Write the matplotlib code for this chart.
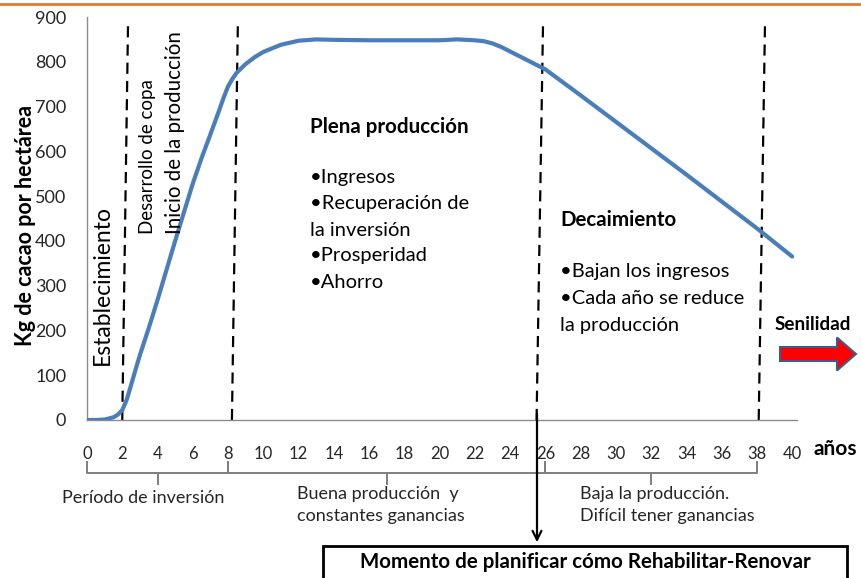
import matplotlib
matplotlib.use('Agg')
import matplotlib.pyplot as plt
import matplotlib.patches as mpatches
import matplotlib.lines as mlines

plt.rcParams['font.family'] = ['Lato', 'DejaVu Sans']

# curva de produccion (kg/ha)
anios = [0, 0.5, 1, 1.5, 1.75, 2, 2.25, 2.5, 2.75, 3, 3.5, 4, 5, 6, 6.5, 7, 7.25, 7.5, 7.75,
         8, 8.25, 8.5, 9, 9.5, 10, 11, 12, 13, 14, 16, 18, 20, 21, 22, 22.5, 23, 23.5, 24,
         25, 26, 28, 30, 32, 34, 36, 38, 40]
kg = [0, 0, 1, 6, 12, 22, 45, 78, 112, 145, 205, 268, 400, 528, 585, 638, 665, 692, 720,
      745, 762, 776, 795, 810, 822, 838, 847, 850, 849, 848, 848, 848, 850, 848, 846, 841,
      833, 823, 803, 783, 725, 666, 607, 548, 488, 428, 365]

x_ticks = list(range(0, 41, 2))
y_ticks = list(range(0, 901, 100))

# limites de etapas (abajo, arriba) - las lineas estan algo inclinadas
etapas = [(2.0, 2.33), (8.22, 8.56), (25.5, 25.87), (38.1, 38.46)]

fases = ['Establecimiento', 'Desarrollo de copa', 'Inicio de la producción']
plena = ['•Ingresos', '•Recuperación de', 'la inversión', '•Prosperidad', '•Ahorro']
decae = ['•Bajan los ingresos', '•Cada año se reduce', 'la producción']
llaves = [(0, 8, 'Período de inversión'),
          (8, 26, 'Buena producción  y\nconstantes ganancias'),
          (26, 38, 'Baja la producción.\nDifícil tener ganancias')]

W, H = 861, 578
fig = plt.figure(figsize=(W / 100, H / 100), dpi=100)
x0, x1, ytop, ybot = 87, 797, 17, 420
ax = fig.add_axes([x0 / W, 1 - ybot / H, (x1 - x0) / W, (ybot - ytop) / H])
ppx = 17.63   # px por anio
ppy = (ybot - ytop) / 900.0


def dx(px):
    return (px - x0) / ppx


def dy(py):
    return (ybot - py) / ppy


ax.set_xlim(0, (x1 - x0) / ppx)
ax.set_ylim(0, 900)
ax.plot(anios, kg, color='#4A7EBB', lw=3.0, solid_capstyle='round',
        solid_joinstyle='round', zorder=3)

for b, t in etapas:
    ax.plot([b, t], [0, 893], color='black', lw=1.6, dashes=(5, 3.2), zorder=2)

for s in ['top', 'right']:
    ax.spines[s].set_visible(False)
for s in ['left', 'bottom']:
    ax.spines[s].set_color('#8C8C8C')
    ax.spines[s].set_linewidth(1)
ax.set_xticks(x_ticks)
ax.set_yticks(y_ticks)
ax.tick_params(axis='x', length=0, pad=19, labelsize=12, labelcolor='#262626')
ax.tick_params(axis='y', length=0, pad=15, labelsize=13, labelcolor='#262626')

fig.text(26 / W, 1 - 225 / H, 'Kg de cacao por hectárea', rotation=90, ha='center',
         va='center', fontsize=15.5, fontweight='bold', color='black')

# textos verticales de las fases
ax.text(dx(102), dy(365), fases[0], rotation=90, ha='center', va='bottom', fontsize=16.5)
ax.text(dx(147), dy(234), fases[1], rotation=90, ha='center', va='bottom', fontsize=13.5)
ax.text(dx(175), dy(234), fases[2], rotation=90, ha='center', va='bottom', fontsize=14.8)

ax.text(dx(310), dy(127), 'Plena producción', ha='left', va='center', fontsize=14.8,
        fontweight='bold')
for i, t in enumerate(plena):
    ax.text(dx(310), dy(178 + i * 26), t, ha='left', va='center', fontsize=14.5)

ax.text(dx(560), dy(220), 'Decaimiento', ha='left', va='center', fontsize=14.8,
        fontweight='bold')
for i, t in enumerate(decae):
    ax.text(dx(560), dy(272 + i * 26.5), t, ha='left', va='center', fontsize=14.5)

# senilidad
ax.text(dx(813), dy(325), 'Senilidad', ha='center', va='center', fontsize=13.6,
        fontweight='bold', clip_on=False)
flecha = mpatches.FancyArrow(dx(780), dy(354), dx(856) - dx(780), 0, width=14 / ppy,
                             head_width=33 / ppy, head_length=19 / ppx,
                             length_includes_head=True, facecolor='#FF0000',
                             edgecolor='#3E5C8A', lw=1.5, clip_on=False, zorder=4)
ax.add_patch(flecha)

ax.text(dx(813), dy(449), 'años', ha='left', va='center', fontsize=15,
        fontweight='bold', clip_on=False)

# llaves debajo del eje
gris = '#7F7F7F'
for a, b, lab in llaves:
    xs = [a, a, b, b]
    ys = [dy(462), dy(473), dy(473), dy(462)]
    ax.add_line(mlines.Line2D(xs, ys, color=gris, lw=1.4, clip_on=False))
    m = (a + b) / 2
    ax.add_line(mlines.Line2D([m, m], [dy(473), dy(484)], color=gris, lw=1.4, clip_on=False))
ax.text(dx(62), dy(498), llaves[0][2], ha='left', va='center', fontsize=13,
        color='#262626', clip_on=False)
ax.text(dx(297), dy(505), llaves[1][2], ha='left', va='center', fontsize=13,
        color='#262626', linespacing=1.4, clip_on=False)
ax.text(dx(580), dy(505), llaves[2][2], ha='left', va='center', fontsize=13,
        color='#262626', linespacing=1.4, clip_on=False)

# flecha hacia el recuadro
ax.annotate('', xy=(dx(537), dy(545)), xytext=(dx(537), dy(411)),
            arrowprops=dict(arrowstyle='->', color='black', lw=1.6,
                            mutation_scale=16), annotation_clip=False)
caja = mpatches.Rectangle((dx(323), dy(600)), dx(847) - dx(323), dy(546) - dy(600),
                          facecolor='white', edgecolor='black', lw=2, clip_on=False)
ax.add_patch(caja)
ax.text(dx(585), dy(562), 'Momento de planificar cómo Rehabilitar-Renovar', ha='center',
        va='center', fontsize=14.8, fontweight='bold', clip_on=False)

# linea naranja superior
fig.add_artist(mlines.Line2D([0, 1], [1 - 4 / H, 1 - 4 / H], transform=fig.transFigure,
                             color='#E8782A', lw=2))

fig.savefig('out.png', dpi=100)
